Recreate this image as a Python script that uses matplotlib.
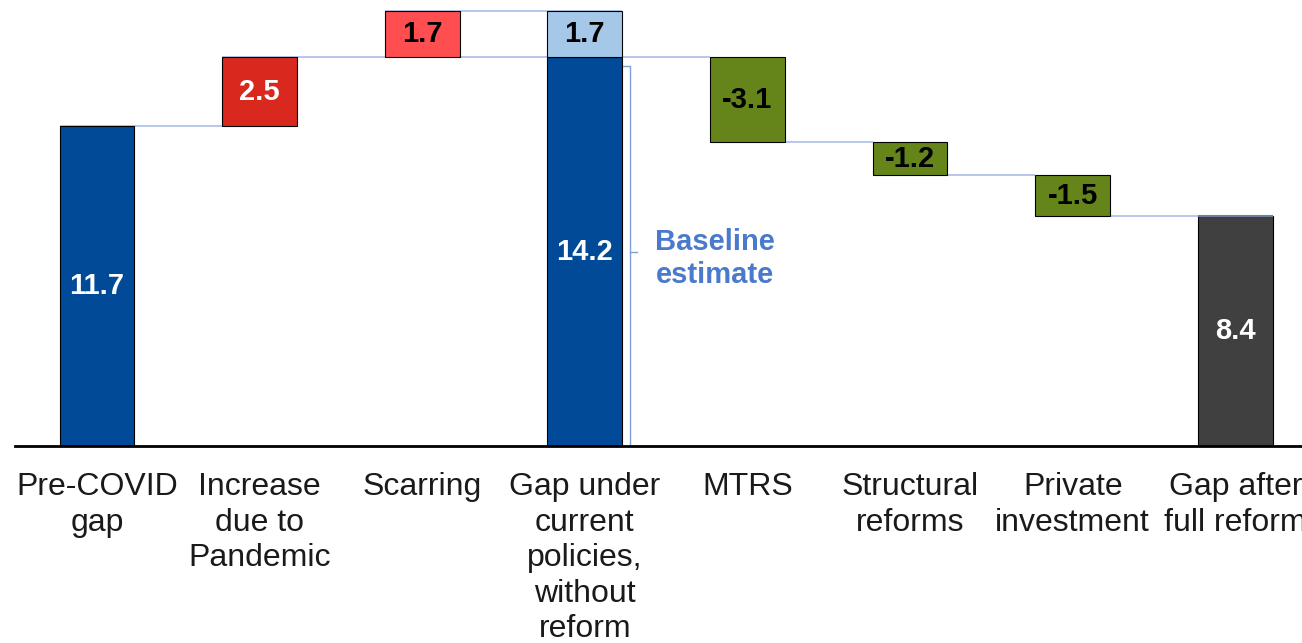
import matplotlib
matplotlib.use("Agg")
import matplotlib.pyplot as plt
import numpy as np

plt.rcParams['font.family'] = ['Liberation Sans', 'DejaVu Sans']

# data
labels = ["Pre-COVID\ngap", "Increase\ndue to\nPandemic", "Scarring",
          "Gap under\ncurrent\npolicies,\nwithout\nreform", "MTRS",
          "Structural\nreforms", "Private\ninvestment", "Gap after\nfull reform"]
values = [11.7, 2.5, 1.7, 14.2, -3.1, -1.2, -1.5, 8.4]
is_total = [True, False, False, True, False, False, False, True]
scarring_on_top = 1.7   # light blue stack on the baseline bar
colors = ["#004A98", "#D9281E", "#FF4E50", "#004A98", "#65851B",
          "#65851B", "#65851B", "#404040"]
label_colors = ["white", "white", "black", "white", "black", "black", "black", "white"]

x = np.arange(len(values))
w = 0.46

# running totals -> bottoms of the floating bars
bottoms = []
level = 0.0
for v, tot in zip(values, is_total):
    if tot:
        bottoms.append(0.0)
        level = v
    else:
        if v >= 0:
            bottoms.append(level)
        else:
            bottoms.append(level + v)
        level += v
heights = [abs(v) for v in values]

fig = plt.figure(figsize=(13.02, 6.43), dpi=100)
ax = fig.add_axes([15 / 1302, 0.3064, 1 - 15 / 1302, 1 - 0.3064])

ax.bar(x, heights, w, bottom=bottoms, color=colors, edgecolor="black",
       linewidth=0.8, zorder=3)
ax.bar(x[3], scarring_on_top, w, bottom=values[3], color="#A6C8E8",
       edgecolor="black", linewidth=0.8, zorder=3)

# connector lines
line_c = "#A9BEE8"
ax.hlines(values[0], x[0] - w / 2, x[1] - w / 2, color=line_c, lw=1.2, zorder=2)
ax.hlines(values[0] + values[1], x[1] - w / 2, x[4] - w / 2, color=line_c, lw=1.2, zorder=2)
ax.hlines(values[3] + scarring_on_top, x[2] - w / 2, x[3] + w / 2, color=line_c, lw=1.2, zorder=2)
for i in range(4, 7):
    ax.hlines(bottoms[i], x[i] - w / 2, x[i + 1] - w / 2, color=line_c, lw=1.2, zorder=2)
ax.hlines(values[7], x[7] - w / 2, x[7] + w / 2, color="#6F7F9F", lw=1.5, zorder=4)

# value labels
for i, v in enumerate(values):
    ax.text(x[i], bottoms[i] + heights[i] / 2, f"{v:.1f}", ha="center", va="center",
            color=label_colors[i], fontsize=21, fontweight="bold", zorder=5)
ax.text(x[3], values[3] + scarring_on_top / 2, f"{scarring_on_top:.1f}", ha="center",
        va="center", color="black", fontsize=21, fontweight="bold", zorder=5)

# baseline bracket
bx = x[3] + 0.28
ax.plot([x[3] + w / 2, bx, bx], [13.9, 13.9, 0], color="#7F9FD8", lw=1, zorder=2)
ax.plot([bx, bx + 0.04], [values[3] / 2, values[3] / 2], color="#7F9FD8", lw=1, zorder=2)
ax.text(x[3] + 0.80, values[3] / 2 - 0.25, "Baseline\nestimate", ha="center", va="center",
        color="#4A7ACB", fontsize=21, fontweight="bold", linespacing=1.22)

ax.set_xlim(-0.504, 7.41)
ax.set_ylim(0, 16.3)
ax.set_xticks(x)
ax.set_xticklabels(labels, fontsize=23, color="#1A1A1A", linespacing=1.24)
ax.tick_params(axis="x", length=0, pad=19)
ax.set_yticks([])
for s in ["top", "right", "left"]:
    ax.spines[s].set_visible(False)
ax.spines["bottom"].set_linewidth(2)
ax.spines["bottom"].set_zorder(6)

fig.savefig("out.png", dpi=100)
